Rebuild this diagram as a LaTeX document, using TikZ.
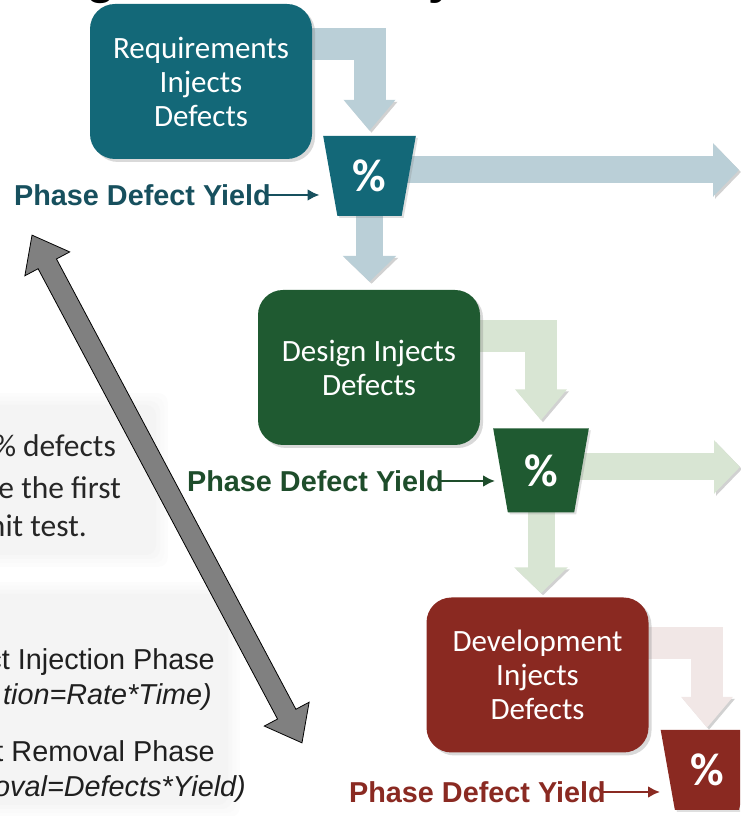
\documentclass[tikz,border=0pt]{standalone}
\usepackage{fontspec}
\setmainfont{Carlito}
\newfontfamily\arialfont{Liberation Sans}
\usetikzlibrary{arrows.meta,shapes.geometric,shapes.arrows,shadows}

\definecolor{reqdark}{HTML}{136878}
\definecolor{reqtext}{HTML}{17505E}
\definecolor{reqlight}{HTML}{BACFD7}
\definecolor{desdark}{HTML}{1F5A31}
\definecolor{destext}{HTML}{1E4D2B}
\definecolor{deslight}{HTML}{D8E5D3}
\definecolor{devdark}{HTML}{8A2921}
\definecolor{devtext}{HTML}{8A2A22}
\definecolor{devlight}{HTML}{F1E7E6}

\pgfdeclarelayer{back}
\pgfdeclarelayer{flows}
\pgfsetlayers{back,flows,main}

\begin{document}
\begin{tikzpicture}[x=1pt, y=1pt,
    phase/.style={fill=#1, rectangle, rounded corners=25pt, minimum width=222pt, minimum height=155pt,
        align=center, text=white, font=\fontsize{31}{34}\selectfont,
        drop shadow={opacity=0.3, shadow xshift=3pt, shadow yshift=-3pt}},
    funnel/.style={trapezium, shape border rotate=180, trapezium stretches=true,
        trapezium left angle=77, trapezium right angle=77, minimum width=93pt, minimum height=80pt,
        inner sep=0pt, fill=#1, text=white, font=\bfseries\fontsize{46}{46}\selectfont,
        drop shadow={opacity=0.25, shadow xshift=2pt, shadow yshift=-2pt}},
    flow/.style={line width=32pt, draw=#1, -{Triangle[length=31pt, width=50pt]},
        preaction={draw=black!18, transform canvas={shift={(2pt,-2pt)}}}},
    outflow/.style={line width=27pt, draw=#1, -{Triangle[length=26pt, width=52pt]},
        preaction={draw=black!18, transform canvas={shift={(2pt,-2pt)}}}},
    yield/.style={font=\arialfont\bfseries\fontsize{28.8}{30}\selectfont, text=#1, inner sep=0pt, anchor=east},
    yieldarrow/.style={draw=#1, line width=2.4pt, -{Latex[length=12pt, width=12pt]}},
    note/.style={font=\fontsize{31.5}{40}\selectfont, text=black!85, inner sep=0pt, anchor=base east},
    law/.style={font=\arialfont\fontsize{28.8}{30}\selectfont, text=black!88, inner sep=0pt, anchor=base east},
    lawit/.style={law, font=\arialfont\itshape\fontsize{28.8}{30}\selectfont},
    twoway/.style={double arrow, draw=black, line width=0.8pt, fill=black!50, rotate=-62,
        minimum height=575pt, inner xsep=0pt, inner ysep=10pt, double arrow head extend=15pt,
        double arrow tip angle=76}]
    \useasboundingbox (0,0) rectangle (740,816);
    \clip (0,0) rectangle (740,816);

    % Notes on the left
    \begin{pgfonlayer}{back}
        \foreach \g/\d in {1/12, 2/8, 3/4, 4.5/0} {
            \fill[black!\g, rounded corners=10pt] (-20,261-\d) rectangle (156+\d,411+\d);
            \fill[black!\g, rounded corners=10pt] (-20,11-\d) rectangle (228+\d,222+\d);
        }
    \end{pgfonlayer}
    \node[note] (n1) at (116,359) {\% defects};
    \node[note] (n2) at (121,317) {e the first};
    \node[note] (n3) at (87,279) {nit test.};
    \node[law] (n4) at (215,146) {ct Injection Phase};
    \node[lawit] (n5) at (212,111) {tion=Rate*Time)};
    \node[law] (n6) at (215,54) {t Removal Phase};
    \node[lawit] (n7) at (246,19) {oval=Defects*Yield)};
    \node[twoway] (span) at (167,327) {};

    % Title remains
    \node[font=\arialfont\bfseries\fontsize{48}{48}\selectfont, anchor=base west, inner sep=0pt] (t1) at (86,822) {g};
    \node[font=\arialfont\bfseries\fontsize{48}{48}\selectfont, anchor=base west, inner sep=0pt] (t2) at (428,822) {y};

    % Nodes
    \node[phase=reqdark] (req) at (201,734.5) {Requirements\\Injects\\Defects};
    \node[phase=desdark] (des) at (369,448.5) {Design Injects\\Defects};
    \node[phase=devdark] (dev) at (537.5,141) {Development\\Injects\\Defects};
    \node[funnel=reqdark] (f1) at (369.5,640) {\%};
    \node[funnel=desdark, minimum width=96pt, minimum height=84pt] (f2) at (541,345.5) {\%};
    \node[funnel=devdark] (f3) at (707,46) {\%};
    \node[yield=reqtext] (y1) at (271,621) {Phase Defect Yield};
    \node[yield=destext] (y2) at (444,335) {Phase Defect Yield};
    \node[yield=devtext] (y3) at (606,24) {Phase Defect Yield};
    \coordinate (out1) at (739,646);
    \coordinate (out2) at (740,349);

    % Arrows
    \begin{pgfonlayer}{flows}
        \draw[flow=reqlight] ([xshift=-30pt, yshift=37.5pt]req.east) -| ([yshift=5pt]f1.north);
        \draw[outflow=reqlight] ([yshift=6pt]f1.center) -- (out1);
        \draw[outflow=reqlight] (f1.center) -- ([yshift=8pt]f1.center |- des.north);
        \draw[flow=deslight] ([xshift=-30pt, yshift=31.5pt]des.east) -| ([yshift=8pt]f2.north);
        \draw[outflow=deslight] ([yshift=3.5pt]f2.center) -- (out2);
        \draw[outflow=deslight] (f2.center) -- ([yshift=4pt]f2.center |- dev.north);
        \draw[flow=devlight] ([xshift=-30pt, yshift=32pt]dev.east) -| ([yshift=2pt]f3.north);
    \end{pgfonlayer}
    \draw[yieldarrow=reqtext] ([xshift=-5pt]y1.east) -- ([xshift=-50pt]f1.center |- y1.east);
    \draw[yieldarrow=destext] ([xshift=-5pt]y2.east) -- ([xshift=-46pt]f2.center |- y2.east);
    \draw[yieldarrow=devtext] ([xshift=-5pt]y3.east) -- ([xshift=-47pt]f3.center |- y3.east);

\end{tikzpicture}
\end{document}
